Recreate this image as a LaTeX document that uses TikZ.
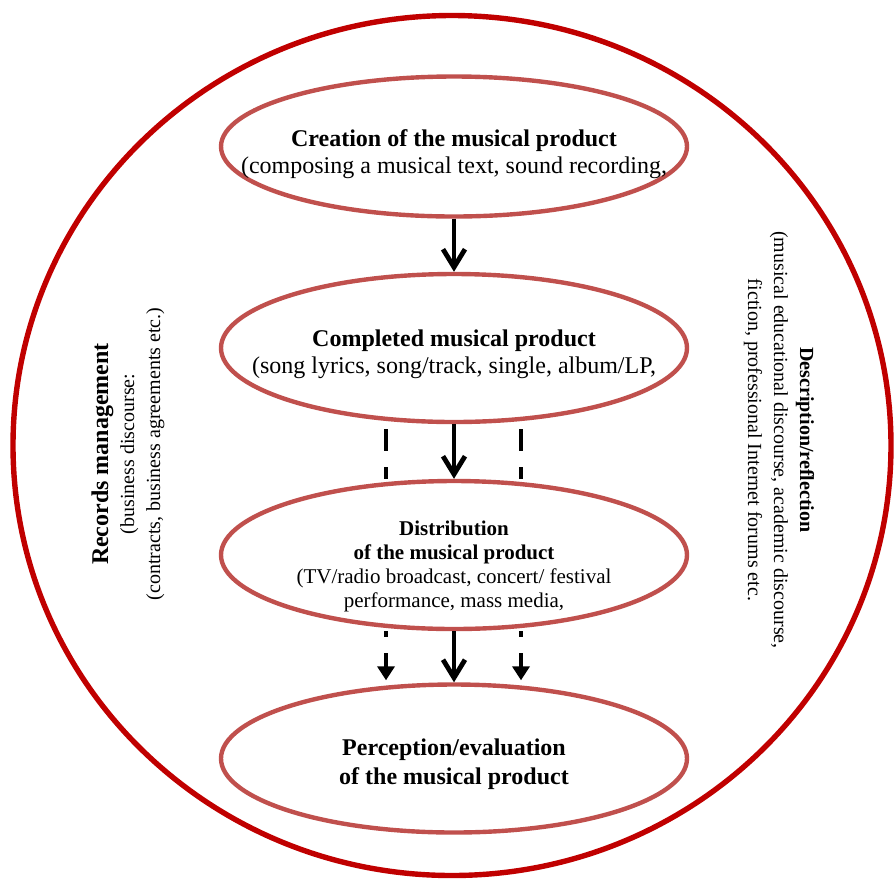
\documentclass[tikz,border=0pt]{standalone}
\usepackage{fontspec}
\setmainfont{Liberation Serif}
\usetikzlibrary{
    arrows.meta,
    shapes.geometric,
    positioning
}
\definecolor{ringred}{HTML}{C00000}
\definecolor{stagered}{HTML}{C0504D}
\tikzset{
    stage/.style={draw=stagered, line width=2.2pt, ellipse, minimum width=233pt, minimum height=74pt, inner sep=0pt},
    stagetext/.style={align=center, inner sep=0pt, font=\fontsize{12}{13.5}\selectfont},
    flow/.style={-{Straight Barb[length=9pt, width=11pt]}, line width=2.4pt},
    sideline/.style={line width=2.4pt, dash pattern=on 11pt off 8pt, dash phase=-2.5pt},
    sidearrow/.style={line width=2.4pt, dash pattern=on 11pt off 8pt, dash phase=8pt, -{Triangle[length=7pt, width=8.5pt]}},
    sidetext/.style={align=center, inner sep=0pt, font=\fontsize{10}{13}\selectfont}
}

\begin{document}
\begin{tikzpicture}[x=0.5pt, y=-0.5pt]
    \useasboundingbox (0, 0) rectangle (895, 880);
    \draw[ringred, line width=2.7pt] (452, 445.5) ellipse [x radius=219.5pt, y radius=215pt];

    \node[stage, minimum height=70pt] (create) at (454, 146.5) {};
    \node[stage] (complete) at (454, 348) {};
    \node[stage] (distrib) at (454, 555) {};
    \node[stage] (perceive) at (454, 758.5) {};

    \node[stagetext] (createtxt) at (454, 154) {\textbf{Creation of the musical product}\\(composing a musical text, sound recording,};
    \node[stagetext] (completetxt) at (454, 354) {\textbf{Completed musical product}\\(song lyrics, song/track, single, album/LP,};
    \node[stagetext, font=\fontsize{10.5}{12}\selectfont] (distribtxt) at (454, 566) {\textbf{Distribution}\\\textbf{of the musical product}\\(TV/radio broadcast, concert/ festival\\performance, mass media,};
    \node[stagetext, font=\fontsize{12}{14.5}\selectfont] (perceivetxt) at (454, 764) {\textbf{Perception/evaluation}\\\textbf{of the musical product}};

    \node[sidetext, rotate=90] (records) at (128, 454) {{\fontsize{12}{13}\selectfont\textbf{Records management}}\\(business discourse:\\(contracts, business agreements etc.)};
    \node[sidetext, rotate=-90] (describe) at (779, 440) {\textbf{Description/reflection}\\(musical educational discourse, academic discourse,\\fiction, professional Internet forums etc.};

    \draw
    (create) edge[flow] (complete)
    (complete) edge[flow] (distrib)
    (distrib) edge[flow] (perceive)
    ([xshift=-34pt]complete.south) edge[sideline] ([xshift=-34pt]distrib.north)
    ([xshift=33.5pt]complete.south) edge[sideline] ([xshift=33.5pt]distrib.north)
    ([xshift=-34pt]distrib.south) edge[sidearrow] ([xshift=-34pt, yshift=1pt]perceive.north)
    ([xshift=33.5pt]distrib.south) edge[sidearrow] ([xshift=33.5pt, yshift=1pt]perceive.north);
\end{tikzpicture}
\end{document}
